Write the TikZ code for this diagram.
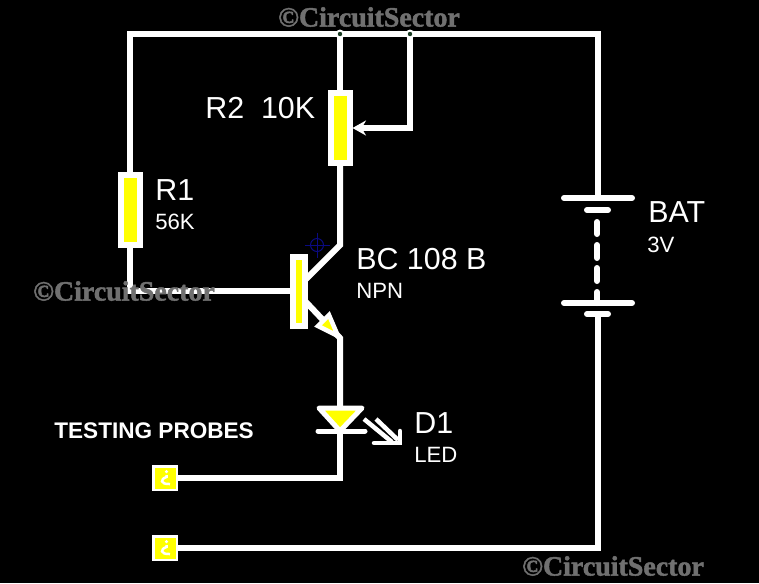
\documentclass[tikz,border=0pt]{standalone}
\usepackage{fontspec}
\setmainfont{Liberation Sans}
\newfontfamily\markfont[FakeBold=1.6]{Liberation Serif}
\usetikzlibrary{arrows.meta}
\definecolor{ledyellow}{RGB}{255,255,0}
\definecolor{markgray}{RGB}{112,112,112}
\definecolor{crossblue}{RGB}{10,10,130}
\definecolor{dotgreen}{RGB}{25,60,35}

\begin{document}
\begin{tikzpicture}[x=0.02cm, y=-0.02cm,
    wire/.style={draw=white, line width=0.12cm},
    plate/.style={draw=white, line width=0.12cm, line cap=round},
    res block/.style={draw=white, fill=ledyellow, line width=0.12cm, rectangle, minimum width=0.38cm, minimum height=1.4cm, inner sep=0pt},
    probe block/.style={draw=white, fill=ledyellow, line width=0.05cm, rectangle, minimum size=0.47cm, inner sep=0pt},
    big label/.style={text=white, anchor=west, inner sep=0pt, font=\fontsize{17.3}{20}\selectfont},
    small label/.style={text=white, anchor=west, inner sep=0pt, font=\fontsize{12.6}{15}\selectfont},
    copy mark/.style={text=markgray, inner sep=0pt, font=\markfont\bfseries\fontsize{15.9}{18}\selectfont}]
    \fill[black] (0,0) rectangle (759,583);
    \useasboundingbox (0,0) rectangle (759,583);

    % points on the wires
    \coordinate (topleft) at (130,34);
    \coordinate (tapa) at (340,34);
    \coordinate (tapb) at (410,34);
    \coordinate (topright) at (598,34);
    \coordinate (coll) at (340,245);
    \coordinate (collb) at (306,279);
    \coordinate (emit) at (340,338);
    \coordinate (emitb) at (306,302);
    \coordinate (ledtop) at (340,408);
    \coordinate (ledtip) at (340,431);
    \coordinate (ledturn) at (340,478);
    \coordinate (botright) at (598,548);

    % parts
    \node[res block] (r1) at (130,210) {};
    \node[res block] (r2) at (340,128) {};
    \node[draw=white, fill=ledyellow, line width=0.12cm, rectangle, minimum width=0.24cm, minimum height=1.38cm, inner sep=0pt] (q1) at (299,291) {};
    \node[probe block] (proba) at (165,478) {};
    \node[probe block] (probb) at (165,548) {};

    % battery
    \coordinate (bata) at (598,198);
    \coordinate (batb) at (598,210);
    \coordinate (batc) at (598,303);
    \coordinate (batd) at (598,314);
    \draw[plate] (564,198) -- (632,198);
    \draw[plate] (587,210) -- (608,210);
    \draw[plate] (564,303) -- (632,303);
    \draw[plate] (587,314) -- (608,314);
    \draw[plate] (597,222) -- (597,234);
    \draw[plate] (597,245) -- (597,258);
    \draw[plate] (597,268) -- (597,281);
    \draw[plate] (597,292) -- (597,303);

    % wires
    \draw[wire, line join=miter] (r1.north) |- (topleft) -- (topright) -- (bata);
    \draw[wire] (tapa) -- (r2.north);
    \draw[wire] (r2.south) -- (coll) -- (collb);
    \draw[wire] (r1.south) |- (q1.west);
    \draw[wire] (emitb) -- (emit) -- (ledtop);
    \draw[wire] (ledtip) -- (ledturn) -- (proba.east);
    \draw[wire] (batd) -- (botright) -- (probb.east);
    \draw[wire, -{Stealth[length=0.27cm, width=0.3cm]}] (tapb) |- (r2.east);

    % emitter arrow
    \draw[draw=white, fill=ledyellow, line width=0.09cm, line join=miter] (318,326) -- (329,315) -- (338,336) -- cycle;

    % led
    \draw[draw=white, fill=ledyellow, line width=0.1cm, line join=round] (319,408) -- (362,408) -- (340,431) -- cycle;
    \draw[plate, line width=0.1cm] (318,431) -- (365,431);
    \draw[draw=white, line width=0.09cm] (364,419) -- (392,442);
    \draw[draw=white, line width=0.09cm] (376,419) -- (398,440);
    \draw[plate, line width=0.09cm] (374,443) -- (400,443) -- (400,431);

    % junction dots
    \foreach \tap in {tapa,tapb} {
        \fill[white] (\tap) circle (4.5);
        \fill[dotgreen] (\tap) circle (2.2);
    }

    % probe hooks
    \foreach \prob in {proba,probb} {
        \fill[white] ([xshift=0.03cm,yshift=0.13cm]\prob.center) circle (0.035cm);
        \draw[white, line width=0.05cm] ([xshift=0.03cm,yshift=0.06cm]\prob.center) -- ([xshift=0.03cm,yshift=0.02cm]\prob.center) .. controls ([xshift=-0.1cm,yshift=-0.02cm]\prob.center) and ([xshift=-0.1cm,yshift=-0.13cm]\prob.center) .. ([xshift=0.1cm,yshift=-0.12cm]\prob.center);
    }

    % tuning mark at the transistor
    \node[draw=crossblue, circle, line width=0.02cm, minimum size=0.26cm, inner sep=0pt] (cross) at (317,245) {};
    \draw[crossblue, line width=0.02cm] ([yshift=0.25cm]cross.center) -- ([yshift=-0.25cm]cross.center);
    \draw[crossblue, line width=0.02cm] ([xshift=-0.25cm]cross.center) -- ([xshift=0.25cm]cross.center);

    % labels
    \node[big label] (r1name) at (155,190) {R1};
    \node[small label] (r1val) at (155,222) {56K};
    \node[big label] (r2name) at (205,108) {R2\ \ 10K};
    \node[big label] (q1name) at (356,259) {BC 108 B};
    \node[small label] (q1type) at (356,291) {NPN};
    \node[big label] (batname) at (648,212) {BAT};
    \node[small label] (batval) at (647,245) {3V};
    \node[big label] (d1name) at (414,423) {D1};
    \node[small label] (d1type) at (414,455) {LED};
    \node[small label, font=\bfseries\fontsize{12.85}{16}\selectfont] (probes) at (54,431) {TESTING PROBES};

    % copyright marks
    \node[copy mark] (marka) at (369,17) {©CircuitSector};
    \node[copy mark] (markb) at (124,291) {©CircuitSector};
    \node[copy mark] (markc) at (613,566) {©CircuitSector};

\end{tikzpicture}
\end{document}
